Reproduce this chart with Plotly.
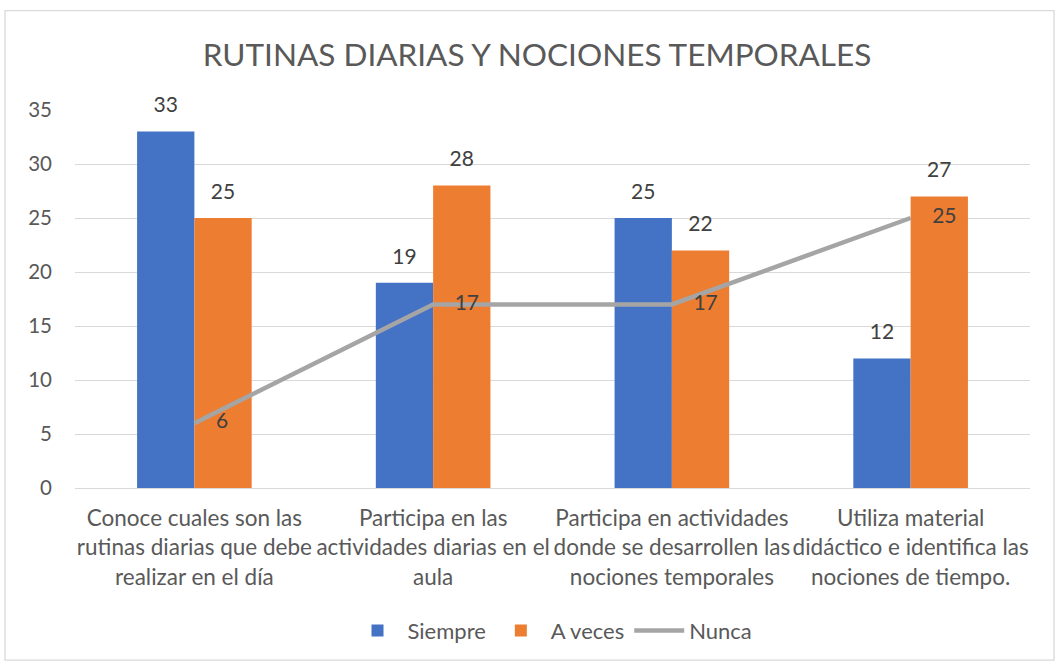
import plotly.graph_objects as go

categories = [
    "Conoce cuales son las<br>rutinas diarias que debe<br>realizar en el día",
    "Participa en las<br>actividades diarias en el<br>aula",
    "Participa en actividades<br>donde se desarrollen las<br>nociones temporales",
    "Utiliza material<br>didáctico e identifica las<br>nociones de tiempo.",
]
siempre = [33, 19, 25, 12]
a_veces = [25, 28, 22, 27]
nunca = [6, 17, 17, 25]

FONT = "Lato, Noto Sans, sans-serif"
TXT = "#404040"
GREY = "#595959"

def bar_label(v):
    return "<span style='font-size:21px'>" + str(v) + "</span><br> "

fig = go.Figure()
fig.add_trace(go.Bar(
    name="Siempre", x=categories, y=siempre, marker_color="#4472C4", marker_line_width=0,
    text=[bar_label(v) for v in siempre], textposition="outside",
    textfont=dict(size=11, color=TXT, family=FONT), cliponaxis=False,
))
fig.add_trace(go.Bar(
    name="A veces", x=categories, y=a_veces, marker_color="#ED7D31", marker_line_width=0,
    text=[bar_label(v) for v in a_veces], textposition="outside",
    textfont=dict(size=11, color=TXT, family=FONT), cliponaxis=False,
))
fig.add_trace(go.Scatter(
    name="Nunca", x=categories, y=nunca, mode="lines+text",
    line=dict(color="#A5A5A5", width=4.5),
    text=["    " + str(v) for v in nunca], textposition="middle right",
    textfont=dict(size=21, color=TXT, family=FONT), cliponaxis=False,
))

fig.update_layout(
    width=1055, height=664,
    margin=dict(l=75, r=25, t=110, b=174),
    paper_bgcolor="white", plot_bgcolor="white",
    barmode="group", bargap=0.52, bargroupgap=0,
    font=dict(family=FONT, color=GREY, size=20),
    title=dict(text="RUTINAS DIARIAS Y NOCIONES TEMPORALES", xref="container", x=537 / 1055,
               xanchor="center", y=0.917, yanchor="middle",
               font=dict(size=31.5, color=GREY, family=FONT)),
    legend=dict(orientation="h", x=0.5, xanchor="center", y=-0.322, yanchor="top",
                font=dict(size=22, color=GREY, family=FONT), traceorder="normal",
                itemwidth=50),
    showlegend=True,
)
fig.update_yaxes(range=[0, 35], dtick=5, showgrid=True, gridcolor="#D9D9D9", gridwidth=1.3,
                 zeroline=False, showline=False, ticks="", tickfont=dict(size=20.5, color=GREY),
                 ticklabelstandoff=22, automargin=False)
fig.update_xaxes(showline=True, linecolor="#D9D9D9", linewidth=1.3, ticks="",
                 tickfont=dict(size=22.5, color=GREY), ticklabelstandoff=10, automargin=False)

fig.add_shape(type="rect", xref="paper", yref="paper",
              x0=(5 - 75) / 955, x1=(1054 - 75) / 955,
              y0=(490 - 663) / 380, y1=(490 - 10) / 380,
              line=dict(color="#D9D9D9", width=1.3), fillcolor="rgba(0,0,0,0)", layer="below")

fig.write_html("out.html", post_script="document.body.style.margin='0';",
               config={"displayModeBar": False})
